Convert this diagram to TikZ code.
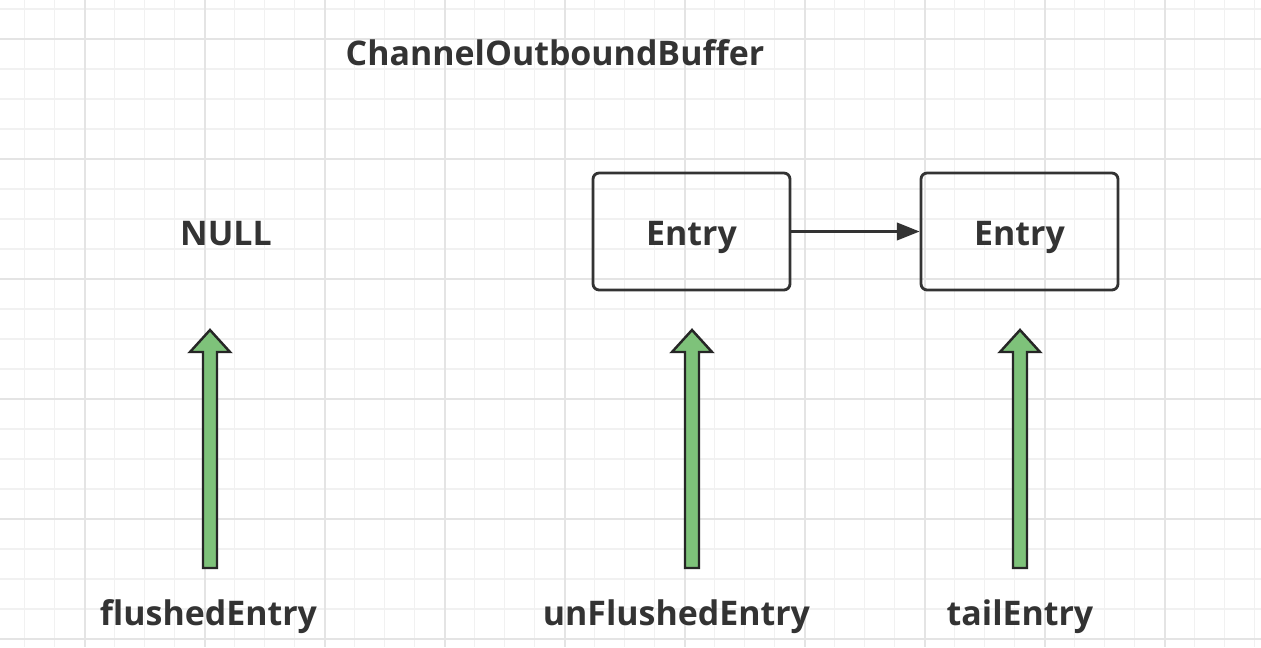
\documentclass[tikz,border=0pt]{standalone}
\usepackage{fontspec}
\setmainfont{Open Sans}
\usetikzlibrary{arrows.meta}
\definecolor{txt}{HTML}{333333}
\definecolor{ptrgreen}{HTML}{7EC27A}
\definecolor{gridminor}{HTML}{F1F1F1}
\definecolor{gridmajor}{HTML}{E4E4E4}
\newcommand{\lbl}{\fontsize{19.3}{22}\selectfont\bfseries}

\begin{document}
\begin{tikzpicture}[x=0.02cm,y=-0.02cm,
   txtnode/.style={text=txt,font=\lbl,inner sep=0pt,anchor=base},
   entrybox/.style={draw=txt,line width=1.6pt,rounded corners=3.5pt,
      minimum width=197*0.02cm,minimum height=117*0.02cm,inner sep=0pt},
   ptr/.style={fill=ptrgreen,draw=black!85,line width=1.4pt,line join=miter}]
   \useasboundingbox (0,0) rectangle (1261,647);
   \fill[white] (0,0) rectangle (1261,647);
   % grid
   \foreach \k in {0,...,41} \draw[gridminor,line width=0.6pt] (24.9+30*\k,0) -- (24.9+30*\k,647);
   \foreach \k in {0,...,21} \draw[gridminor,line width=0.6pt] (0,9+30*\k) -- (1261,9+30*\k);
   \foreach \k in {0,...,9} \draw[gridmajor,line width=0.8pt] (84.9+120*\k,0) -- (84.9+120*\k,647);
   \foreach \k in {0,...,5} \draw[gridmajor,line width=0.8pt] (0,39+120*\k) -- (1261,39+120*\k);
   % nodes
   \node[txtnode] (title) at (555,65) {ChannelOutboundBuffer};
   \node[txtnode] (null) at (226,245) {NULL};
   \node[entrybox] (entryA) at (691.5,231.5) {};
   \node[entrybox] (entryB) at (1019.5,231.5) {};
   \node[txtnode] at (691.5,245) {Entry};
   \node[txtnode] at (1019.5,245) {Entry};
   \draw[txt,line width=1.4pt,-{Triangle[length=13pt,width=10pt]}] (entryA.east) -- (entryB.west);
   % pointers
   \node[txtnode] (flushed) at (208.5,625) {flushedEntry};
   \node[txtnode] (unflushed) at (676.5,625) {unFlushedEntry};
   \node[txtnode] (tail) at (1020,625) {tailEntry};
   \foreach \x in {210,692,1020}
      \filldraw[ptr] (\x-7,568) -- (\x-7,352) -- (\x-20,352) -- (\x,330)
         -- (\x+20,352) -- (\x+7,352) -- (\x+7,568) -- cycle;
\end{tikzpicture}
\end{document}
